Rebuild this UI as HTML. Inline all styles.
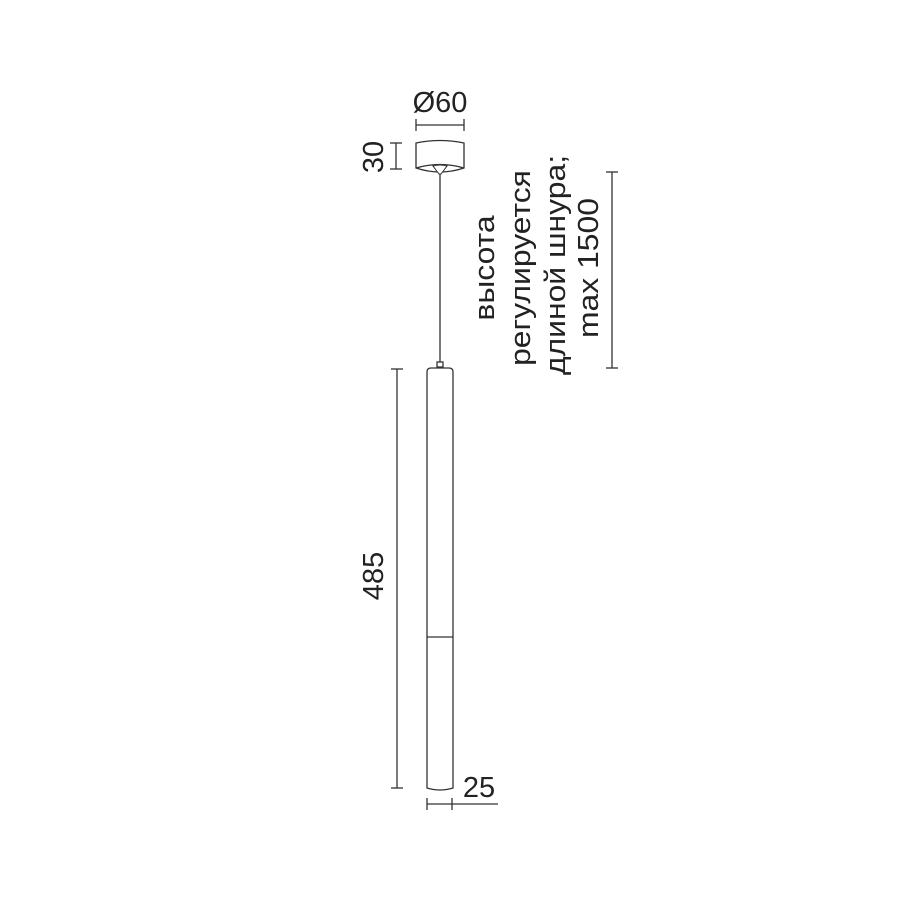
<!DOCTYPE html>
<html><head><meta charset="utf-8"><style>
html,body{margin:0;padding:0;background:#fff;}
svg{display:block;}
text{font-family:"Liberation Sans",sans-serif;fill:#222;}
</style></head><body>
<svg width="900" height="900" viewBox="0 0 900 900" xmlns="http://www.w3.org/2000/svg">
<g stroke="#333" stroke-width="1.3" fill="none">
  <path d="M416,143 Q440,138 464,143 L464,168 Q440,176 416,168 Z" fill="#fff"/>
  <path d="M416,168 Q440,161 464,168"/>
  <path d="M433,166 Q440,164 447,166 L441,174 L439,174 Z" fill="#fff" stroke-width="1"/>
  <line x1="440" y1="174" x2="440" y2="362"/>
  <rect x="437" y="362" width="6" height="5" fill="#fff"/>
  <path d="M427,372 Q427,368 431,368 L449,368 Q453,368 453,372 L453,788 Q440,792 427,788 Z" fill="#fff"/>
  <line x1="427" y1="637" x2="453" y2="637"/>
  <line x1="397" y1="369" x2="397" y2="788"/>
  <line x1="391" y1="369" x2="403" y2="369"/>
  <line x1="391" y1="788" x2="403" y2="788"/>
  <line x1="427" y1="804" x2="498" y2="804"/>
  <line x1="427" y1="798" x2="427" y2="810"/>
  <line x1="452" y1="798" x2="452" y2="810"/>
  <line x1="416" y1="125" x2="464" y2="125"/>
  <line x1="416" y1="119" x2="416" y2="131"/>
  <line x1="464" y1="119" x2="464" y2="131"/>
  <line x1="396" y1="143" x2="396" y2="169"/>
  <line x1="390" y1="143" x2="402" y2="143"/>
  <line x1="390" y1="169" x2="402" y2="169"/>
  <line x1="612" y1="172" x2="612" y2="368"/>
  <line x1="606" y1="172" x2="618" y2="172"/>
  <line x1="606" y1="368" x2="618" y2="368"/>
</g>
<text x="440" y="112" font-size="29" text-anchor="middle">Ø60</text>
<text x="479" y="797" font-size="29" text-anchor="middle">25</text>
<text transform="translate(383,576) rotate(-90)" font-size="29" text-anchor="middle">485</text>
<text transform="translate(383,157) rotate(-90)" font-size="29" text-anchor="middle">30</text>
<g font-size="29" text-anchor="middle">
  <text transform="translate(494,268) rotate(-90) scale(1.1,1)">высота</text>
  <text transform="translate(530,268) rotate(-90) scale(1.1,1)">регулируется</text>
  <text transform="translate(565,265) rotate(-90) scale(1.1,1)">длиной шнура;</text>
  <text transform="translate(598,268) rotate(-90) scale(1.1,1)">max 1500</text>
</g>
</svg>
</body></html>
